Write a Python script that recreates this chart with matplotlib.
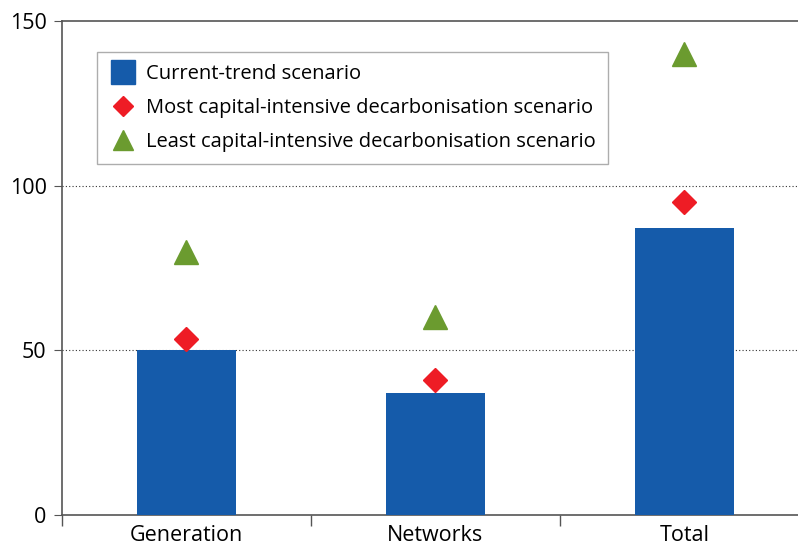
import numpy as np
import matplotlib
matplotlib.use("Agg")
import matplotlib.pyplot as plt
from matplotlib.lines import Line2D

plt.rcParams['font.family'] = ['Open Sans', 'DejaVu Sans']

# Data
categories = ['Generation', 'Networks', 'Total']
current_trend = [50, 37, 87]
most_capital = [53.5, 41, 95]
least_capital = [80, 60, 140]

bar_color = '#155BAA'
red = '#EE1C25'
green = '#6B9B2F'
axis_color = '#555555'

fig = plt.figure(figsize=(7.98, 5.48), dpi=100)
ax = fig.add_axes([62/798, 1 - 515/548, 1 - 62/798, (515 - 21)/548])

x = np.arange(len(categories))
ax.bar(x, current_trend, width=0.4, color=bar_color, zorder=3)
ax.plot(x, most_capital, linestyle='none', marker='D', markersize=12.5,
        color=red, zorder=4)
ax.plot(x, least_capital, linestyle='none', marker='^', markersize=17,
        color=green, zorder=4)

ax.set_xlim(-0.5, 2.456)
ax.set_ylim(0, 150)
ax.set_yticks([0, 50, 100, 150])
ax.set_xticks(x)
ax.set_xticklabels(categories)
ax.set_xticks([-0.5, 0.5, 1.5], minor=True)
ax.tick_params(axis='x', which='major', length=0, labelsize=15.5, pad=7)
ax.tick_params(axis='x', which='minor', length=8, color=axis_color, width=1)
ax.tick_params(axis='y', length=6, color=axis_color, labelsize=15.5, pad=5)

for y in [50, 100]:
    ax.axhline(y, color='#333333', linestyle=(0, (1, 2)), linewidth=0.8, zorder=1)

ax.spines['right'].set_visible(False)
for s in ['left', 'bottom', 'top']:
    ax.spines[s].set_color(axis_color)
    ax.spines[s].set_linewidth(1.2)

handles = [
    Line2D([], [], linestyle='none', marker='s', markersize=17, color=bar_color),
    Line2D([], [], linestyle='none', marker='D', markersize=10, color=red),
    Line2D([], [], linestyle='none', marker='^', markersize=15, color=green),
]
labels = ['Current-trend scenario',
          'Most capital-intensive decarbonisation scenario',
          'Least capital-intensive decarbonisation scenario']
leg = ax.legend(handles, labels, loc='upper left', bbox_to_anchor=(0.0476, 0.937),
                borderaxespad=0, fontsize=14.5, frameon=True, fancybox=False,
                edgecolor='#999999', handletextpad=0.45, borderpad=0.6,
                labelspacing=0.68, handlelength=1.4)
leg.get_frame().set_linewidth(1.0)

fig.savefig('out.png', dpi=100)
